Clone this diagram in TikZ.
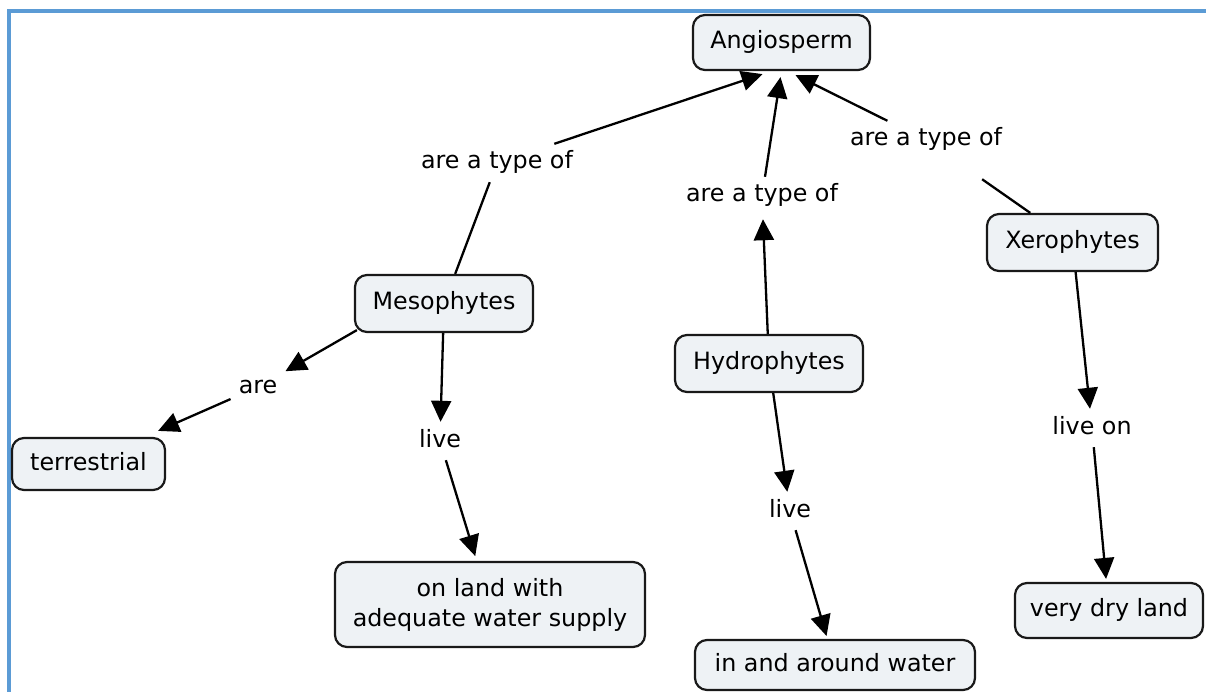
\documentclass[tikz,border=0pt]{standalone}
\usepackage{fontspec}
\setmainfont{DejaVu Sans}
\usetikzlibrary{arrows.meta}
\definecolor{frameblue}{HTML}{5B9BD5}
\definecolor{conceptfill}{HTML}{EEF2F5}
\begin{document}
\begin{tikzpicture}[x=1pt,y=-1pt,
  font=\fontsize{23.8}{30}\selectfont,
  concept/.style={draw=black!90, line width=2.2pt, rounded corners=12pt,
    fill=conceptfill, align=center, inner sep=0pt},
  oneline/.style={text height=17pt, text depth=5pt},
  phrase/.style={inner sep=8pt, text height=17pt, text depth=5pt},
  link/.style={line width=2.3pt, black},
  arr/.style={link, -{Triangle[length=21pt,width=20pt]}}]
\useasboundingbox (0,0) rectangle (1206,692);
% frame lines along the top and left edges
\draw[frameblue, line width=3.2pt] (9,692) -- (9,11) -- (1206,11);

% concepts
\node[concept, oneline, minimum width=177pt, minimum height=55pt] (ang) at (781.5,42.5) {Angiosperm};
\node[concept, oneline, minimum width=178pt, minimum height=57pt] (m) at (444,303.5) {Mesophytes};
\node[concept, oneline, minimum width=188pt, minimum height=57pt] (h) at (769,363.5) {Hydrophytes};
\node[concept, oneline, minimum width=171pt, minimum height=57pt] (x) at (1072.5,242.5) {Xerophytes};
\node[concept, oneline, minimum width=153pt, minimum height=52pt] (ter) at (88.5,464) {terrestrial};
\node[concept, minimum width=310pt, minimum height=85pt] (on) at (490,604.5) {on land with\\adequate water supply};
\node[concept, oneline, minimum width=280pt, minimum height=50pt] (w) at (835,665) {in and around water};
\node[concept, oneline, minimum width=188pt, minimum height=55pt] (d) at (1109,610.5) {very dry land};

% linking phrases
\node[phrase] (t1) at (497,163) {are a type of};
\node[phrase] (t2) at (762,196) {are a type of};
\node[phrase] (t3) at (926,140) {are a type of};
\node[phrase] (a) at (258,387) {are};
\node[phrase] (l1) at (440,441) {live};
\node[phrase] (l2) at (790,511) {live};
\node[phrase] (lo) at (1092,428) {live on};

% connectors
\draw[link] (m) -- (t1);
\draw[arr] (t1) -- ([xshift=-19pt,yshift=-3pt]ang.south);
\draw[arr, shorten >=4pt] (h) -- (t2);
\draw[arr] (t2) -- ([xshift=-1pt,yshift=-6pt]ang.south);
\draw[link, shorten >=35pt] (x) -- (t3);
\draw[arr] (t3) -- ([xshift=14pt,yshift=-4pt]ang.south);
\draw[arr] ([xshift=3pt,yshift=3pt]m.south west) -- (a);
\draw[arr] (a) -- ([xshift=-8pt,yshift=6pt]ter.north east);
\draw[arr] (m) -- (l1);
\draw[arr, shorten >=5pt] (l1) -- (on);
\draw[arr] (h) -- (l2);
\draw[arr, shorten >=3pt] (l2) -- (w);
\draw[arr] (x) -- (lo);
\draw[arr, shorten >=3pt] (lo) -- (d);
\end{tikzpicture}
\end{document}
